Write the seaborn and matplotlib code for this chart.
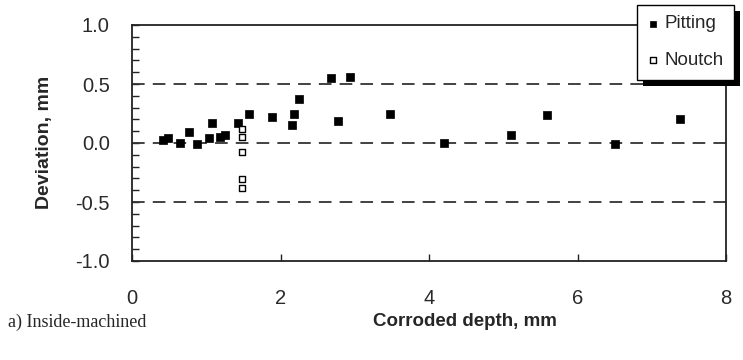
import numpy as np
import pandas as pd
import matplotlib
matplotlib.use("Agg")
import matplotlib.pyplot as plt
from matplotlib.patches import Rectangle
from matplotlib.ticker import MultipleLocator, FixedLocator
import seaborn as sns

# Pitting defects: corroded depth (mm) and deviation (mm)
pitting_depth = [0.42, 0.48, 0.64, 0.77, 0.87, 1.04, 1.08, 1.18, 1.25, 1.43,
                 1.58, 1.88, 2.15, 2.18, 2.25, 2.68, 2.78, 2.93, 3.48, 4.20,
                 5.10, 5.59, 6.50, 7.38]
pitting_dev = [0.025, 0.04, 0.00, 0.09, -0.01, 0.04, 0.17, 0.05, 0.065, 0.17,
               0.25, 0.22, 0.15, 0.25, 0.37, 0.55, 0.19, 0.557, 0.25, 0.00,
               0.065, 0.24, -0.01, 0.20]

# Notch defects
notch_depth = [1.48, 1.48, 1.48, 1.48, 1.48]
notch_dev = [0.12, 0.055, -0.075, -0.305, -0.385]

x_ticks = [0, 2, 4, 6, 8]
y_ticks = [-1.0, -0.5, 0.0, 0.5, 1.0]
ref_lines = [0.5, 0.0, -0.5]

pitting = pd.DataFrame({"depth": pitting_depth, "dev": pitting_dev})
notch = pd.DataFrame({"depth": notch_depth, "dev": notch_dev})

sns.set_theme(style="white")
plt.rcParams["font.family"] = ["Liberation Sans", "DejaVu Sans"]
plt.rcParams["axes.unicode_minus"] = False

W, H = 743, 360
fig = plt.figure(figsize=(W / 100, H / 100), dpi=100)
ax = fig.add_axes([132 / W, 1 - 261 / H, (726 - 132) / W, (261 - 25) / H])

for yv in ref_lines:
    ax.axhline(yv, color="#333333", lw=1.3, dashes=(7, 4.5), zorder=1)

sns.scatterplot(data=pitting, x="depth", y="dev", ax=ax, marker="s", s=28,
                color="black", edgecolor="black", linewidth=0.5,
                label="Pitting", legend=False, zorder=3)
sns.scatterplot(data=notch, x="depth", y="dev", ax=ax, marker="s", s=22,
                facecolor="white", edgecolor="black", linewidth=1.0,
                label="Noutch", legend=False, zorder=3)

ax.set_xlim(0, 8)
ax.set_ylim(-1.0, 1.0)
ax.xaxis.set_major_locator(FixedLocator(x_ticks))
ax.yaxis.set_major_locator(FixedLocator(y_ticks))
ax.yaxis.set_minor_locator(MultipleLocator(0.1))
ax.set_xticklabels([f"{v:g}" for v in x_ticks])
ax.set_yticklabels([f"{v:.1f}" for v in y_ticks])
ax.tick_params(axis="both", which="both", direction="in", color="#222222",
               labelsize=14.5, labelcolor="#2a2a2a")
ax.tick_params(axis="y", which="both", length=5, width=1.0, left=True, pad=16)
ax.tick_params(axis="x", which="major", length=5, width=1.0, bottom=True, pad=20)
for sp in ax.spines.values():
    sp.set_visible(True)
    sp.set_color("#222222")
    sp.set_linewidth(1.3)

ax.set_xlabel("")
ax.set_ylabel("")
fig.text(45 / W, 1 - 142 / H, "Deviation, mm", rotation=90, ha="center",
         va="center", fontsize=14, fontweight="bold")
fig.text(465 / W, 1 - 322 / H, "Corroded depth, mm", ha="center",
         va="center", fontsize=13.5, fontweight="bold")
fig.text(8 / W, 1 - 322 / H, "a) Inside-machined", ha="left", va="center",
         fontsize=13, family=["Liberation Serif", "DejaVu Serif"])

handles, labels = ax.get_legend_handles_labels()
leg = fig.legend(handles, labels, loc="upper right",
                 bbox_to_anchor=(734 / W, 1 - 5 / H), frameon=True,
                 fancybox=False, framealpha=1.0, fontsize=13.5,
                 handlelength=0.6, handletextpad=0.3, borderpad=0.55,
                 labelspacing=1.05, markerscale=0.8, borderaxespad=0)
leg.get_frame().set_edgecolor("black")
leg.get_frame().set_linewidth(1.0)
leg.get_frame().set_facecolor("white")
leg.set_zorder(5)

fig.canvas.draw()
bb = leg.get_window_extent(fig.canvas.get_renderer())
off = 6
fig.patches.append(Rectangle(((bb.x0 + off) / W, (bb.y0 - off) / H),
                             bb.width / W, bb.height / H,
                             transform=fig.transFigure, facecolor="black",
                             edgecolor="none", zorder=4))

fig.savefig("out.png", dpi=100)
